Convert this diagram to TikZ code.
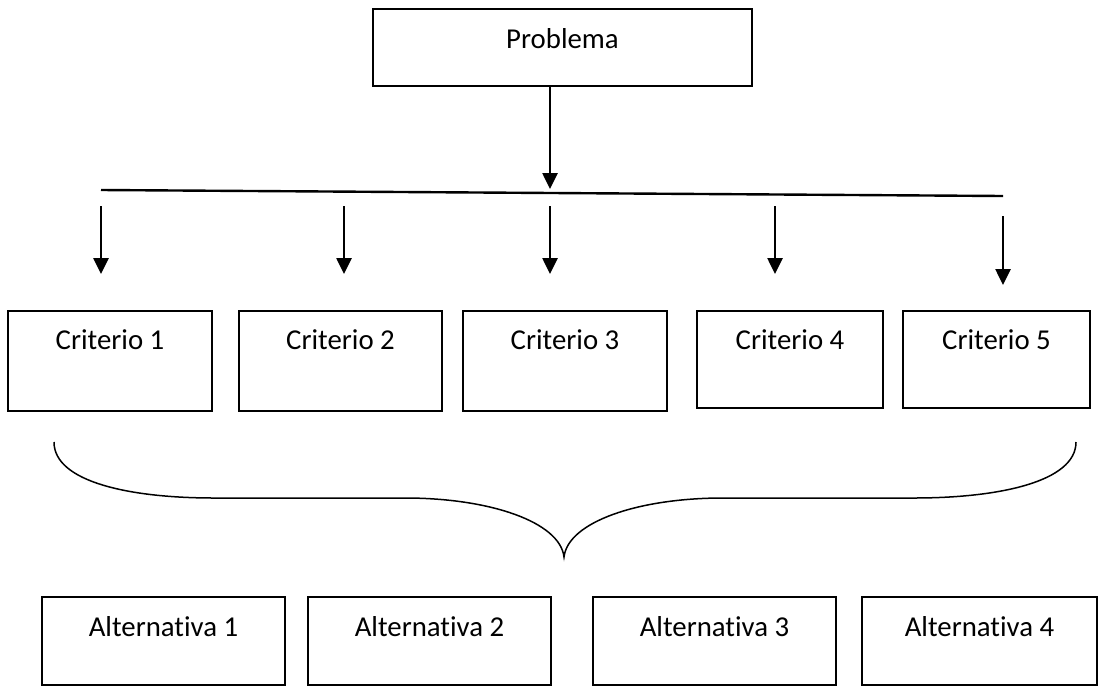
\documentclass[tikz,border=0pt]{standalone}
\usepackage{fontspec}
\setmainfont{Carlito}[Ligatures=NoCommon]
\usetikzlibrary{arrows.meta}
\begin{document}
\begin{tikzpicture}[x=1pt,y=-1pt,
  box/.style={draw=black,line width=2pt,rectangle,inner sep=0pt,text height=20pt,
    font=\fontsize{28.8}{34}\selectfont},
  arr/.style={draw=black,line width=2.6pt,-{Triangle[width=15pt,length=16pt]}},
  spine/.style={draw=black,line width=2.4pt},
  brace/.style={draw=black,line width=1.5pt}]
\useasboundingbox (0,0) rectangle (1100,686);
% top box
\node[box,minimum width=379pt,minimum height=77pt,text depth=19pt] (prob) at (562.5,47.5) {Problema};
% criteria
\node[box,minimum width=204pt,minimum height=100pt,text depth=44pt] (c1) at (110,361) {Criterio 1};
\node[box,minimum width=203pt,minimum height=100pt,text depth=44pt] (c2) at (340.5,361) {Criterio 2};
\node[box,minimum width=204pt,minimum height=100pt,text depth=44pt] (c3) at (565,361) {Criterio 3};
\node[box,minimum width=186pt,minimum height=97pt,text depth=41pt] (c4) at (790,359.5) {Criterio 4};
\node[box,minimum width=187pt,minimum height=97pt,text depth=41pt] (c5) at (996.5,359.5) {Criterio 5};
% alternatives
\node[box,minimum width=243pt,minimum height=88pt,text depth=30pt] (a1) at (163.5,641) {Alternativa 1};
\node[box,minimum width=243pt,minimum height=88pt,text depth=30pt] (a2) at (429.5,641) {Alternativa 2};
\node[box,minimum width=243pt,minimum height=88pt,text depth=30pt] (a3) at (714.5,641) {Alternativa 3};
\node[box,minimum width=235pt,minimum height=88pt,text depth=30pt] (a4) at (979.5,641) {Alternativa 4};
% spine
\coordinate (sl) at (101,190);
\coordinate (sr) at (1003,196);
\draw[spine] (sl) -- (sr);
\coordinate (ps) at (550,86);
\coordinate (pe) at (550,189);
\draw[arr] (ps) -- (pe);
% arrows to criteria
\coordinate (s1) at (101,206); \coordinate (e1) at (101,274);
\coordinate (s2) at (344,206); \coordinate (e2) at (344,274);
\coordinate (s3) at (550,206); \coordinate (e3) at (550,274);
\coordinate (s4) at (775,206); \coordinate (e4) at (775,274);
\coordinate (s5) at (1003,216); \coordinate (e5) at (1003,285);
\draw[arr] (s1) -- (e1);
\draw[arr] (s2) -- (e2);
\draw[arr] (s3) -- (e3);
\draw[arr] (s4) -- (e4);
\draw[arr] (s5) -- (e5);
% brace
\coordinate (bl) at (54,442);
\coordinate (bt) at (564,557);
\coordinate (br) at (1076,442);
\draw[brace] (bl) .. controls (54,482) and (130,498) .. (214,498)
  -- (405,498) .. controls (490,498) and (560,522) .. (bt)
  .. controls (568,522) and (638,498) .. (723,498)
  -- (914,498) .. controls (998,498) and (1076,482) .. (br);
\end{tikzpicture}
\end{document}
